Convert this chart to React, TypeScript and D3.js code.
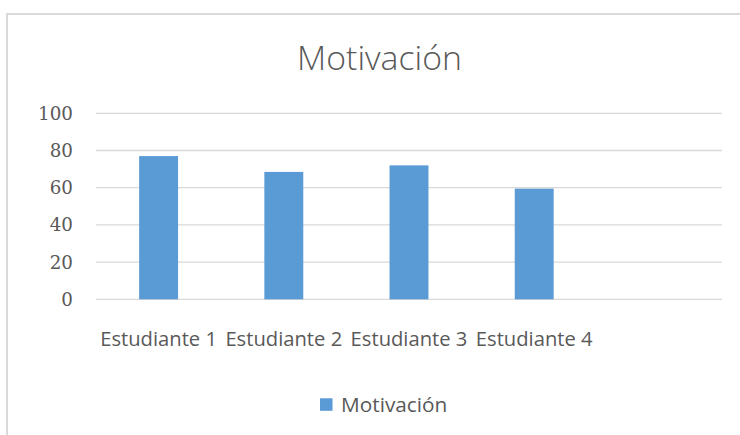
import React from "react";
import * as d3 from "d3";

const title = "Motivación";
const seriesName = "Motivación";
const categories = ["Estudiante 1", "Estudiante 2", "Estudiante 3", "Estudiante 4"];
const values = [77, 68.5, 72, 59.5];
const yTicks = [0, 20, 40, 60, 80, 100];

const W = 740;
const H = 435;
const plot = { left: 96, right: 722, top: 113.3, bottom: 299.3 };
const barColor = "#5B9BD5";
const textColor = "#595959";
const gridColor = "#D9D9D9";
const sans = "'Open Sans', 'Noto Sans', sans-serif";

export default function App() {
  const slots = [...categories, "__empty__"];
  const x = d3
    .scaleBand<string>()
    .domain(slots)
    .range([plot.left, plot.right])
    .paddingInner(0.689)
    .paddingOuter(0.3445);
  const y = d3.scaleLinear().domain([0, 100]).range([plot.bottom, plot.top]);

  return (
    <svg
      width={W}
      height={H}
      style={{ position: "absolute", left: 0, top: 0, background: "#fff" }}
    >
      <rect x={0} y={0} width={W} height={H} fill="#fff" />
      <rect x={7} y={14} width={900} height={600} fill="none" stroke={gridColor} strokeWidth={2} />
      <text
        x={379.5}
        y={69.5}
        textAnchor="middle"
        fontFamily={sans}
        fontWeight={300}
        fontSize={33.8}
        fill={textColor}
      >
        {title}
      </text>
      {yTicks.map((t) => (
        <g key={t}>
          <line x1={plot.left} x2={plot.right} y1={y(t)} y2={y(t)} stroke={gridColor} strokeWidth={1.3} />
          <text
            x={73}
            y={y(t)}
            dy="0.36em"
            textAnchor="end"
            fontFamily="'DejaVu Serif', serif"
            fontSize={18.3}
            fill={textColor}
          >
            {t}
          </text>
        </g>
      ))}
      {categories.map((c, i) => (
        <rect
          key={c}
          x={x(c)!}
          y={y(values[i])}
          width={x.bandwidth()}
          height={y(0) - y(values[i])}
          fill={barColor}
        />
      ))}
      {categories.map((c) => (
        <text
          key={c}
          x={x(c)! + x.bandwidth() / 2}
          y={346}
          textAnchor="middle"
          fontFamily={sans}
          fontSize={20.2}
          fill={textColor}
        >
          {c}
        </text>
      ))}
      <rect x={320} y={398.3} width={12.5} height={12.5} fill={barColor} />
      <text x={341} y={411.5} fontFamily={sans} fontSize={20.8} fill={textColor}>
        {seriesName}
      </text>
    </svg>
  );
}
